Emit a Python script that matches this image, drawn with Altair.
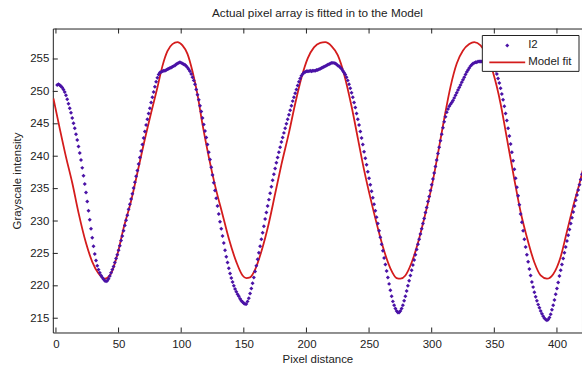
import altair as alt
import pandas as pd

# ---------------- data ----------------
i2_values = [
    251.0, 251.1, 251.0, 250.8, 250.6, 250.3, 249.9, 249.4, 248.8, 248.1,
    247.4, 246.7, 245.9, 245.1, 244.3, 243.4, 242.5, 241.5, 240.5, 239.4,
    238.2, 237.0, 235.7, 234.4, 233.0, 231.6, 230.2, 228.8, 227.4, 226.1,
    224.9, 223.9, 223.1, 222.5, 222.0, 221.6, 221.3, 221.0, 220.8, 220.7,
    220.8, 221.1, 221.5, 222.0, 222.5, 223.0, 223.6, 224.2, 224.8, 225.5,
    226.2, 227.0, 227.7, 228.5, 229.3, 230.1, 230.9, 231.8, 232.6, 233.4,
    234.2, 235.1, 236.0, 236.9, 237.8, 238.8, 239.8, 240.8, 241.8, 242.8,
    243.8, 244.8, 245.7, 246.6, 247.4, 248.3, 249.1, 249.9, 250.7, 251.5,
    252.1, 252.6, 252.9, 253.0, 253.1, 253.2, 253.2, 253.3, 253.4, 253.5,
    253.6, 253.7, 253.8, 253.9, 254.0, 254.2, 254.3, 254.4, 254.5, 254.4,
    254.3, 254.2, 254.1, 253.9, 253.7, 253.4, 253.1, 252.7, 252.2, 251.7,
    251.1, 250.3, 249.5, 248.7, 247.8, 246.9, 245.9, 244.9, 243.9, 242.9,
    241.8, 240.6, 239.5, 238.3, 237.1, 235.9, 234.7, 233.5, 232.3, 231.1,
    229.9, 228.8, 227.7, 226.6, 225.5, 224.5, 223.6, 222.7, 221.9, 221.2,
    220.6, 220.0, 219.5, 219.1, 218.7, 218.4, 218.0, 217.7, 217.5, 217.3,
    217.2, 217.2, 217.6, 218.1, 218.8, 219.6, 220.4, 221.3, 222.2, 223.1,
    224.1, 225.1, 226.1, 227.2, 228.2, 229.2, 230.3, 231.3, 232.3, 233.3,
    234.3, 235.3, 236.3, 237.2, 238.1, 239.0, 239.8, 240.6, 241.4, 242.2,
    242.9, 243.6, 244.3, 245.0, 245.7, 246.4, 247.1, 247.8, 248.5, 249.1,
    249.7, 250.3, 250.9, 251.5, 252.0, 252.4, 252.7, 252.9, 253.0, 253.1,
    253.1, 253.1, 253.2, 253.1, 253.2, 253.2, 253.2, 253.3, 253.3, 253.4,
    253.5, 253.6, 253.7, 253.8, 253.9, 254.0, 254.1, 254.2, 254.3, 254.4,
    254.4, 254.4, 254.3, 254.2, 254.0, 253.9, 253.7, 253.5, 253.2, 252.9,
    252.6, 252.2, 251.7, 251.1, 250.5, 249.8, 249.1, 248.3, 247.5, 246.6,
    245.7, 244.8, 243.8, 242.8, 241.8, 240.7, 239.7, 238.7, 237.6, 236.6,
    235.6, 234.6, 233.6, 232.6, 231.6, 230.6, 229.6, 228.5, 227.5, 226.4,
    225.4, 224.3, 223.3, 222.3, 221.3, 220.3, 219.3, 218.4, 217.6, 217.0,
    216.5, 216.1, 215.9, 215.9, 216.1, 216.5, 217.0, 217.7, 218.4, 219.2,
    220.0, 220.8, 221.6, 222.4, 223.2, 224.0, 224.8, 225.6, 226.4, 227.2,
    228.0, 228.8, 229.6, 230.4, 231.3, 232.1, 233.0, 233.8, 234.7, 235.6,
    236.5, 237.4, 238.4, 239.4, 240.4, 241.4, 242.4, 243.4, 244.4, 245.3,
    246.1, 246.8, 247.3, 247.7, 248.0, 248.3, 248.6, 249.0, 249.4, 249.8,
    250.2, 250.6, 251.0, 251.4, 251.8, 252.2, 252.6, 253.0, 253.3, 253.6,
    253.9, 254.1, 254.3, 254.4, 254.5, 254.5, 254.6, 254.6, 254.6, 254.6,
    254.6, 254.6, 254.6, 254.6, 254.5, 254.5, 254.3, 254.2, 254.0, 253.7,
    253.2, 252.7, 252.0, 251.3, 250.5, 249.6, 248.7, 247.7, 246.6, 245.5,
    244.3, 243.1, 241.9, 240.6, 239.3, 238.0, 236.6, 235.2, 233.9, 232.5,
    231.1, 229.8, 228.5, 227.2, 226.0, 224.8, 223.7, 222.6, 221.6, 220.6,
    219.8, 219.0, 218.3, 217.7, 217.1, 216.6, 216.1, 215.7, 215.3, 215.0,
    214.8, 214.7, 214.8, 215.1, 215.6, 216.3, 217.0, 217.8, 218.7, 219.6,
    220.5, 221.5, 222.4, 223.3, 224.2, 225.1, 226.0, 226.9, 227.8, 228.7,
    229.6, 230.5, 231.4, 232.3, 233.2, 234.0, 234.8, 235.6, 236.4, 237.2,
]
i2_x = list(range(1, len(i2_values) + 1))

fit_x = [-2, 3, 8, 13, 18, 24, 29, 34, 39, 44, 49, 54, 60, 65, 70, 76, 81, 85,
         89, 93, 97, 101, 105, 109, 113, 117, 122, 127, 133, 138, 144, 149, 152,
         155, 159, 164, 170, 175, 180, 186, 191, 196, 201, 206, 211, 215, 220,
         225, 230, 236, 241, 246, 252, 257, 262, 267, 272, 275, 279, 284, 289,
         294, 300, 305, 310, 315, 320, 325, 330, 334, 339, 344, 349, 355, 360,
         366, 371, 376, 382, 387, 392, 397, 403, 408, 413, 418, 422]
fit_values = [248.9, 244.3, 239.9, 235.9, 231.3, 226.6, 223.7, 221.9, 221.1,
              221.9, 224.8, 228.9, 233.1, 237.4, 241.8, 246.7, 250.6, 253.9,
              256.2, 257.3, 257.6, 257.1, 255.8, 253.1, 249.5, 244.9, 239.9,
              235.5, 231.0, 227.3, 223.7, 221.6, 221.2, 221.3, 222.5, 225.3,
              229.7, 234.2, 238.7, 243.6, 248.1, 252.1, 255.1, 256.8, 257.5,
              257.6, 257.0, 255.6, 252.7, 247.7, 242.8, 237.9, 232.8, 228.9,
              225.4, 222.7, 221.2, 221.1, 221.6, 223.6, 226.6, 230.4, 235.3,
              240.4, 245.8, 250.7, 254.3, 256.3, 257.3, 257.6, 257.1, 255.6,
              252.9, 248.1, 242.8, 236.4, 231.4, 227.5, 223.6, 221.6, 221.1,
              221.8, 224.5, 228.4, 232.3, 235.8, 238.9]

x_ticks = [0, 50, 100, 150, 200, 250, 300, 350, 400]
y_ticks = [215, 220, 225, 230, 235, 240, 245, 250, 255]
legend_labels = ["I2", "Model fit"]

title_text = "Actual pixel array is fitted in to the Model"
x_title = "Pixel distance"
y_title = "Grayscale intensity"

# ---------------- styling ----------------
W, H = 531, 305
DOT = "#4a12a6"
RED = "#d41c1c"
FONT = "Liberation Sans"
TXT = "#222222"

xs = alt.Scale(domain=[-2.5, 420], nice=False, zero=False)
ys = alt.Scale(domain=[212.8, 259.7], nice=False, zero=False)

df_i2 = pd.DataFrame({"x": i2_x, "v": i2_values})
df_fit = pd.DataFrame({"x": fit_x, "v": fit_values})
df_xt = pd.DataFrame({"xt": x_ticks})
df_yt = pd.DataFrame({"yt": y_ticks})

x_axis = alt.Axis(values=x_ticks, ticks=False, domain=False, grid=False,
                  labelPadding=6, titlePadding=4, labelFontSize=11.5,
                  titleFontSize=11.5, labelOverlap=False)
y_axis = alt.Axis(values=y_ticks, ticks=False, domain=False, grid=False,
                  labelPadding=4, titlePadding=7, labelFontSize=11.5,
                  titleFontSize=11.5, labelOverlap=False)


def X(field):
    return alt.X(field, scale=xs, axis=x_axis, title=x_title)


def Y(field):
    return alt.Y(field, scale=ys, axis=y_axis, title=y_title)


fit_line = alt.Chart(df_fit).mark_line(
    color=RED, strokeWidth=1.8, clip=True, interpolate="monotone"
).encode(x=X("x:Q"), y=Y("v:Q"))

dots = alt.Chart(df_i2).mark_point(
    filled=True, shape="diamond", size=16, color=DOT, opacity=1, clip=True
).encode(x=X("x:Q"), y=Y("v:Q"))

tick_bottom = alt.Chart(df_xt).mark_rule(color="#222", strokeWidth=1).encode(
    x=X("xt:Q"), y=alt.value(H), y2=alt.value(H - 5))
tick_top = alt.Chart(df_xt).mark_rule(color="#222", strokeWidth=1).encode(
    x=X("xt:Q"), y=alt.value(0), y2=alt.value(5))
tick_left = alt.Chart(df_yt).mark_rule(color="#222", strokeWidth=1).encode(
    y=Y("yt:Q"), x=alt.value(0), x2=alt.value(5))

# legend (drawn in the upper right corner)
df_leg = pd.DataFrame({"label": legend_labels})
leg_box = alt.Chart(df_leg.head(1)).mark_rect(
    fill="white", stroke="#222", strokeWidth=1
).encode(x=alt.value(431), x2=alt.value(528), y=alt.value(7), y2=alt.value(43))
leg_dot = alt.Chart(df_leg.head(1)).mark_point(
    filled=True, shape="diamond", size=16, color=DOT, opacity=1
).encode(x=alt.value(456), y=alt.value(17))
leg_line = alt.Chart(df_leg.tail(1)).mark_rule(color=RED, strokeWidth=1.8).encode(
    x=alt.value(438), x2=alt.value(474), y=alt.value(34))
leg_t1 = alt.Chart(df_leg.head(1)).mark_text(
    align="left", baseline="middle", font=FONT, fontSize=11.5, color=TXT
).encode(x=alt.value(477), y=alt.value(17), text="label:N")
leg_t2 = alt.Chart(df_leg.tail(1)).mark_text(
    align="left", baseline="middle", font=FONT, fontSize=11.5, color=TXT
).encode(x=alt.value(477), y=alt.value(34), text="label:N")

chart = alt.layer(
    fit_line, dots, tick_bottom, tick_top, tick_left,
    leg_box, leg_dot, leg_line, leg_t1, leg_t2
).properties(
    width=W, height=H,
    title=alt.TitleParams(title_text, fontSize=11.8, font=FONT, fontWeight="normal",
                          color=TXT, anchor="middle", offset=8),
    padding={"left": 53, "top": 28, "right": 0, "bottom": 34},
    autosize="none",
    background="white",
).configure_view(
    stroke="#222", strokeWidth=1
).configure_axis(
    labelFont=FONT, titleFont=FONT, labelColor=TXT, titleColor=TXT,
    titleFontWeight="normal"
)

chart.save("out.html", embed_options={"renderer": "svg", "actions": False})
